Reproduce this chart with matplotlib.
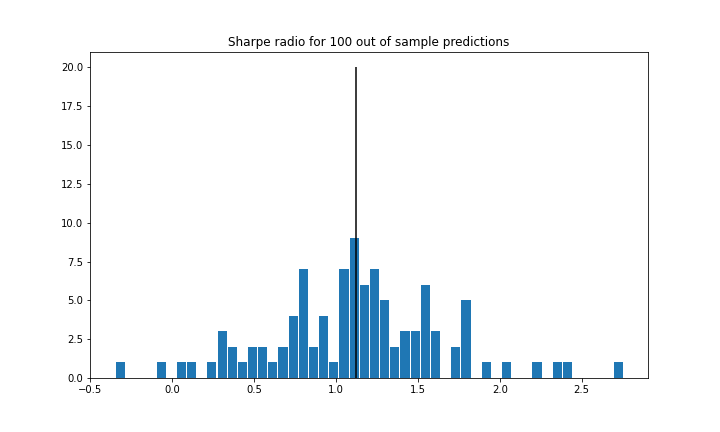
import numpy as np
import matplotlib
matplotlib.use('Agg')
import matplotlib.pyplot as plt

# conteos (50 bins)
bin_lo = -0.345
bin_hi = 2.755
conteos = [1, 0, 0, 0, 1, 0, 1, 1, 0, 1,
           3, 2, 1, 2, 2, 1, 2, 4, 7, 2,
           4, 1, 7, 9, 6, 7, 5, 2, 3, 3,
           6, 3, 0, 2, 5, 0, 1, 0, 1, 0,
           0, 1, 0, 1, 1, 0, 0, 0, 0, 1]
media_sharpe = 1.126
altura_linea = 20

bordes = np.linspace(bin_lo, bin_hi, len(conteos) + 1)
centros = (bordes[:-1] + bordes[1:]) / 2

fig, ax = plt.subplots(figsize=(10, 6), dpi=72)
fig.subplots_adjust(bottom=0.125)
ax.hist(centros, bins=bordes, weights=conteos, rwidth=0.9)
ax.vlines(media_sharpe, 0, altura_linea, colors='black')
ax.set_xlim(-0.5, 2.905)
ax.set_title('Sharpe radio for 100 out of sample predictions')

fig.savefig('out.png')
